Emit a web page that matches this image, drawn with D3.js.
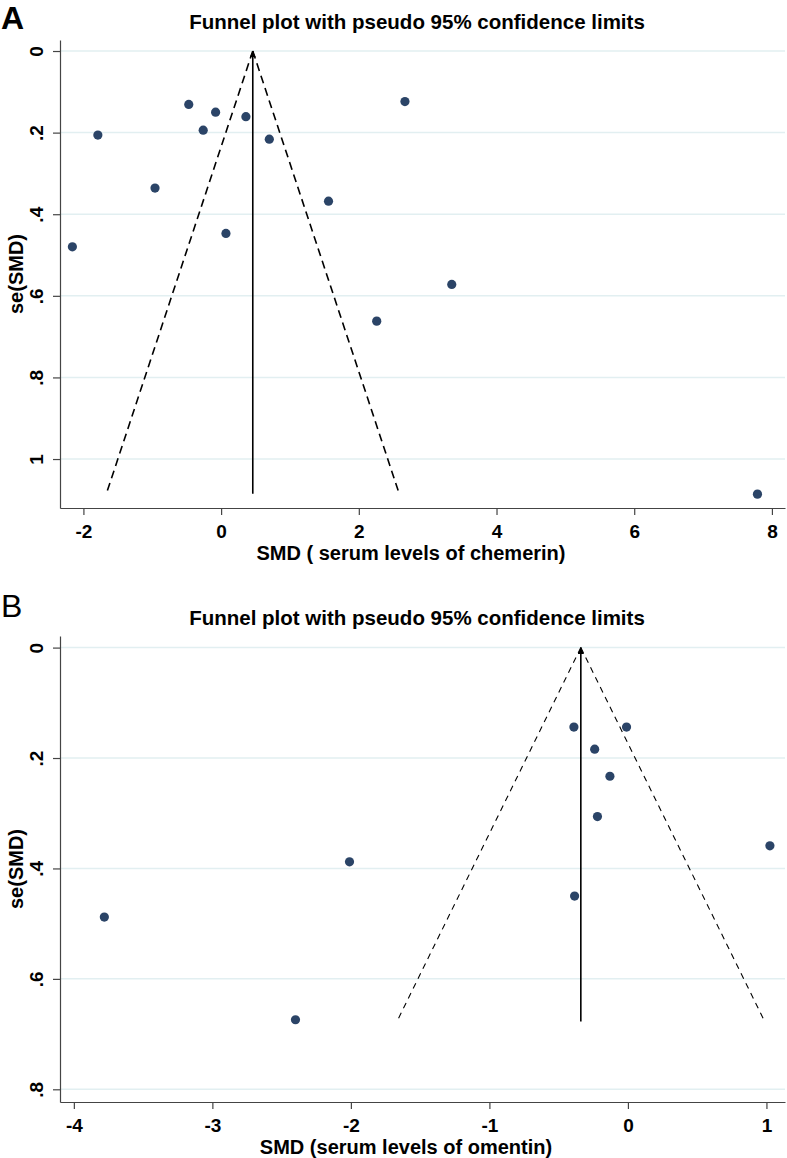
<!DOCTYPE html>
<html>
<head>
<meta charset="utf-8">
<script src="https://cdn.jsdelivr.net/npm/d3@7"></script>
<style>
  body { margin: 0; background: #fff; }
  svg text { font-family: "Liberation Sans", Arial, sans-serif; font-weight: bold; fill: #000; }
</style>
</head>
<body>
<div id="main"></div>
<script>
// panel A: chemerin
var smdA = [-2.16, -1.79, -0.96, -0.47, -0.26, -0.08, 0.36, 0.70, 0.07, 1.56, 2.67, 2.26, 3.35, 7.79];
var seA  = [0.480, 0.206, 0.336, 0.131, 0.194, 0.150, 0.161, 0.216, 0.447, 0.368, 0.124, 0.662, 0.572, 1.086];
var pooledA = 0.46, seMaxA = 1.085;
var xTicksA = [-2, 0, 2, 4, 6, 8];
var yTicksA = [0, 0.2, 0.4, 0.6, 0.8, 1];

// panel B: omentin
var smdB = [-0.39, -0.01, -0.24, -0.13, -0.22, 1.025, -2.01, -0.385, -3.78, -2.40];
var seB  = [0.144, 0.144, 0.184, 0.233, 0.306, 0.359, 0.388, 0.450, 0.488, 0.674];
var pooledB = -0.34, seMaxB = 0.677;
var xTicksB = [-4, -3, -2, -1, 0, 1];
var yTicksB = [0, 0.2, 0.4, 0.6, 0.8];

var titleText = "Funnel plot with pseudo 95% confidence limits";

var svg = d3.select("#main").append("svg")
    .attr("width", 787)
    .attr("height", 1158);

svg.append("defs").append("marker")
    .attr("id", "arrow")
    .attr("viewBox", "0 0 10 10")
    .attr("refX", 10).attr("refY", 5)
    .attr("markerWidth", 4).attr("markerHeight", 4)
    .attr("orient", "auto")
  .append("path")
    .attr("d", "M0,0 L10,5 L0,10 z")
    .attr("fill", "#000");

// stata style: ".2" instead of "0.2"
function yFmt(d) {
  if (d === 0) return "0";
  if (d >= 1) return String(d);
  return String(d).replace(/^0/, "");
}

function drawPanel(opt) {
  var x = d3.scaleLinear().domain(opt.xDomain).range([60, 785]);
  var y = d3.scaleLinear().domain(opt.yDomain).range([opt.top, opt.bottom]);
  var g = svg.append("g");

  // grid lines
  g.selectAll(".grid")
      .data(opt.yTicks)
      .enter().append("line")
      .attr("x1", 60).attr("x2", 785)
      .attr("y1", function(d) { return y(d); })
      .attr("y2", function(d) { return y(d); })
      .attr("stroke", "#e2eff1")
      .attr("stroke-width", 1.5);

  // axes
  var yAxis = g.append("g")
      .attr("transform", "translate(60,0)")
      .call(d3.axisLeft(y).tickValues(opt.yTicks).tickSize(7).tickSizeOuter(0).tickFormat(yFmt));
  yAxis.selectAll("text")
      .attr("transform", "rotate(-90)")
      .attr("x", 0).attr("y", -17).attr("dy", 0)
      .attr("text-anchor", "middle")
      .style("font-size", "19px");

  var xAxis = g.append("g")
      .attr("transform", "translate(0," + opt.bottom + ")")
      .call(d3.axisBottom(x).tickValues(opt.xTicks).tickSize(7).tickSizeOuter(0)
        .tickFormat(function(d) { return String(d); }));
  xAxis.selectAll("text")
      .attr("y", 30).attr("dy", 0)
      .style("font-size", "19px");

  [yAxis, xAxis].forEach(function(a) {
    a.select(".domain").attr("stroke", "#444").attr("stroke-width", 1.2);
    a.selectAll(".tick line").attr("stroke", "#444").attr("stroke-width", 1.2);
  });

  // funnel limits
  [-1, 1].forEach(function(s) {
    g.append("line")
        .attr("x1", x(opt.pooled)).attr("y1", y(0))
        .attr("x2", x(opt.pooled + s * 1.96 * opt.seMax)).attr("y2", y(opt.seMax))
        .attr("stroke", "#000")
        .attr("stroke-width", opt.dashWidth)
        .attr("stroke-dasharray", opt.dash);
  });

  g.append("line")
      .attr("x1", x(opt.pooled)).attr("y1", y(opt.seMax))
      .attr("x2", x(opt.pooled)).attr("y2", y(0))
      .attr("stroke", "#000")
      .attr("stroke-width", 1.6)
      .attr("marker-end", "url(#arrow)");

  // studies
  g.selectAll(".dot")
      .data(opt.smd)
      .enter().append("circle")
      .attr("cx", function(d) { return x(d); })
      .attr("cy", function(d, i) { return y(opt.se[i]); })
      .attr("r", 4.6)
      .attr("fill", "#2b4467");

  // titles
  g.append("text")
      .attr("x", 417).attr("y", opt.top - 11)
      .attr("text-anchor", "middle")
      .style("font-size", "20.5px")
      .text(titleText);

  g.append("text")
      .attr("x", opt.xLabelX).attr("y", opt.bottom + 52)
      .attr("text-anchor", "middle")
      .style("font-size", "20px")
      .text(opt.xLabel);

  g.append("text")
      .attr("transform", "rotate(-90)")
      .attr("x", -(opt.top + opt.bottom) / 2).attr("y", 23)
      .attr("text-anchor", "middle")
      .style("font-size", "20px")
      .text("se(SMD)");

  g.append("text")
      .attr("x", 1).attr("y", opt.letterY)
      .style("font-size", "32px")
      .style("font-weight", opt.letterWeight)
      .text(opt.letter);
}

drawPanel({
  letter: "A", letterY: 29, letterWeight: "bold",
  top: 40, bottom: 508,
  xDomain: [-2.34, 8.19], yDomain: [-0.027, 1.12],
  xTicks: xTicksA, yTicks: yTicksA,
  smd: smdA, se: seA, pooled: pooledA, seMax: seMaxA,
  dash: "8,5", dashWidth: 1.6,
  xLabel: "SMD ( serum levels of chemerin)", xLabelX: 411
});

drawPanel({
  letter: "B", letterY: 617, letterWeight: "normal",
  top: 636, bottom: 1102,
  xDomain: [-4.10, 1.134], yDomain: [-0.021, 0.823],
  xTicks: xTicksB, yTicks: yTicksB,
  smd: smdB, se: seB, pooled: pooledB, seMax: seMaxB,
  dash: "6,5", dashWidth: 1.1,
  xLabel: "SMD (serum levels of omentin)", xLabelX: 406
});
</script>
</body>
</html>
